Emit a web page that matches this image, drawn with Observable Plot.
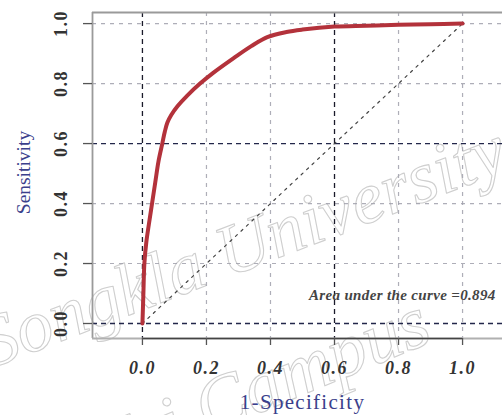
<!DOCTYPE html>
<html>
<head>
<meta charset="utf-8">
<script src="https://cdn.jsdelivr.net/npm/d3@7"></script>
<script src="https://cdn.jsdelivr.net/npm/@observablehq/plot@0.6"></script>
<style>
  html, body { margin: 0; padding: 0; background: #fff; overflow: hidden; }
  #chart svg { overflow: hidden; display: block; }
  .xticklab text, .yticklab text { letter-spacing: 1.5px; }
  .xtitle text { letter-spacing: 1.3px; }
  .auc text { letter-spacing: 0.35px; }
</style>
</head>
<body>
<div id="chart"></div>
<script>
// ROC curve values
const fpr = [0, 0.003, 0.006, 0.012, 0.02, 0.03, 0.04, 0.05, 0.062, 0.07, 0.078, 0.09, 0.11, 0.14, 0.18, 0.22, 0.285, 0.34, 0.39, 0.45, 0.5, 0.6, 0.7, 0.8, 0.9, 1.0];
const tpr = [0, 0.1, 0.2, 0.27, 0.33, 0.4, 0.47, 0.54, 0.6, 0.64, 0.67, 0.695, 0.725, 0.76, 0.8, 0.835, 0.885, 0.925, 0.955, 0.972, 0.98, 0.99, 0.993, 0.996, 0.998, 1.0];
const diagonal = [0, 1];
const xTicks = [0, 0.2, 0.4, 0.6, 0.8, 1.0];
const yTicks = [0, 0.2, 0.4, 0.6, 0.8, 1.0];
const darkGridX = [0, 0.6];
const lightGridX = [0.2, 0.4, 0.8, 1.0];
const darkGridY = [0, 0.6];
const lightGridY = [0.2, 0.4, 0.8, 1.0];
const xDomain = [-0.156, 1.156];
const yDomain = [-0.05, 1.037];
const xTitle = "1-Specificity";
const yTitle = "Sensitivity";
const aucLabel = "Area under the curve =0.894";
const aucPos = {x: 0.52, y: 0.095};
const watermark1 = "Songkla University";
const watermark2 = "Hat Yai Campus";

const roc = fpr.map((x, i) => ({x, y: tpr[i]}));
const diag = diagonal.map(v => ({x: v, y: v}));

const serif = "'Liberation Serif', 'DejaVu Serif', serif";
const navy = "#3b3f8c";

const chart = Plot.plot({
  width: 502,
  height: 415,
  marginLeft: 92,
  marginRight: -10,
  marginTop: 12,
  marginBottom: 77,
  style: {fontFamily: serif, background: "#fff"},
  x: {domain: xDomain, axis: null},
  y: {domain: yDomain, axis: null},
  marks: [
    // watermark
    Plot.text([watermark1], {frameAnchor: "bottom-left", dx: -102, dy: 30, rotate: -21, textAnchor: "start", lineAnchor: "bottom",
      fontSize: 73, fontStyle: "italic", fill: "none", stroke: "#cfcfcf", strokeWidth: 1.1, fontFamily: serif}),
    Plot.text([watermark2], {frameAnchor: "bottom-left", dx: 342, dy: 2, rotate: -22.5, textAnchor: "end", lineAnchor: "bottom",
      fontSize: 75, fontStyle: "italic", fill: "none", stroke: "#cfcfcf", strokeWidth: 1.1, fontFamily: serif}),
    // grid
    Plot.gridX(lightGridX, {stroke: "#a0a0ac", strokeOpacity: 0.85, strokeDasharray: "4,5", strokeWidth: 1.2}),
    Plot.gridY(lightGridY, {stroke: "#a0a0ac", strokeOpacity: 0.85, strokeDasharray: "4,5", strokeWidth: 1.2}),
    Plot.gridX(darkGridX, {stroke: "#1a1a2a", strokeOpacity: 1, strokeDasharray: "5,4", strokeWidth: 1.3}),
    Plot.gridY(darkGridY, {stroke: "#22264a", strokeOpacity: 1, strokeDasharray: "5,4", strokeWidth: 1.3}),
    // box (left, top, bottom)
    Plot.ruleX([xDomain[0]], {stroke: "#9a9a9a", strokeWidth: 1.8}),
    Plot.ruleY([yDomain[1]], {stroke: "#9a9a9a", strokeWidth: 1.8}),
    Plot.ruleY([yDomain[0]], {stroke: "#b0b0b0", strokeWidth: 1.8}),
    // curves
    Plot.line(diag, {x: "x", y: "y", stroke: "#444", strokeWidth: 1.2, strokeDasharray: "2.5,5"}),
    Plot.line(roc, {x: "x", y: "y", stroke: "#b3323b", strokeWidth: 4, curve: "catmull-rom", strokeLinecap: "round"}),
    // x axis
    Plot.ruleY([yDomain[0]], {x1: xTicks[0], x2: xTicks[xTicks.length - 1], stroke: "#444", strokeWidth: 1.4}),
    Plot.axisX({ticks: xTicks, tickSize: 7, tickFormat: () => "", label: null, stroke: "#555", strokeWidth: 1.3}),
    Plot.text(xTicks, {x: d => d, text: d => d.toFixed(1), frameAnchor: "bottom", dy: 30, lineAnchor: "middle",
      fontSize: 18, fontWeight: "bold", fontStyle: "italic", fill: "#333", fontFamily: serif, className: "xticklab"}),
    // y axis
    Plot.axisY({ticks: yTicks, tickSize: 9, tickFormat: () => "", label: null, stroke: "#555", strokeWidth: 1.3}),
    Plot.text(yTicks, {y: d => d, text: d => d.toFixed(1), frameAnchor: "left", dx: -31, rotate: -90, lineAnchor: "middle", textAnchor: "middle",
      fontSize: 18, fontWeight: "bold", fill: "#333", fontFamily: serif, className: "yticklab"}),
    // titles
    Plot.text([yTitle], {frameAnchor: "left", dx: -69, dy: -3, rotate: -90, lineAnchor: "middle", textAnchor: "middle",
      fontSize: 19.5, fill: navy, fontFamily: serif}),
    Plot.text([xTitle], {x: 0.5, frameAnchor: "bottom", dy: 64, lineAnchor: "middle", textAnchor: "middle",
      fontSize: 21, fill: navy, fontFamily: serif, className: "xtitle"}),
    // AUC annotation
    Plot.text([aucLabel], {x: aucPos.x, y: aucPos.y, textAnchor: "start", lineAnchor: "middle",
      fontSize: 15, fontStyle: "italic", fontWeight: "bold", fill: "#444", fontFamily: serif, className: "auc"})
  ]
});
document.getElementById("chart").appendChild(chart);
</script>
</body>
</html>
